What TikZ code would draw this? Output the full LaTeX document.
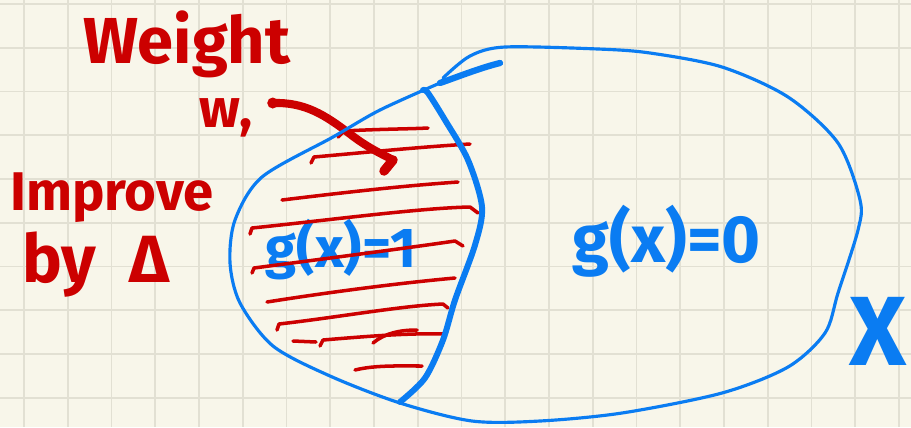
\documentclass[tikz,border=0pt]{standalone}
\usepackage{fontspec}
\setmainfont{Fira Sans}
\usepackage{tikz}
\definecolor{paper}{HTML}{F8F6EA}
\definecolor{gridc}{HTML}{E2E0D3}
\definecolor{inkred}{HTML}{CC0000}
\definecolor{inkblue}{HTML}{0A7CF2}

\begin{document}
\begin{tikzpicture}[x=0.02cm, y=-0.02cm,
  redtext/.style={text=inkred, inner sep=0pt, font=\fontsize{#1}{#1}\selectfont\bfseries},
  bluetext/.style={text=inkblue, inner sep=0pt, font=\fontsize{#1}{#1}\selectfont\bfseries},
  gridline/.style={draw=gridc, line width=1.1pt},
  hatch/.style={draw=inkred, line width=2pt, line cap=round, line join=round},
  arrowink/.style={draw=inkred, line width=4.6pt, line cap=round, line join=round},
  rim/.style={draw=inkblue, line width=1.8pt, line cap=round, line join=round},
  cut/.style={draw=inkblue, line width=3.4pt, line cap=round, line join=round}
]
\useasboundingbox (0,0) rectangle (911,427);
\fill[paper] (0,0) rectangle (911,427);
\foreach \k in {0,...,20} \draw[gridline] ({24+43.75*\k},0) -- ({24+43.75*\k},427);
\foreach \k in {0,...,9} \draw[gridline] (0,{4+43.75*\k}) -- (911,{4+43.75*\k});

\node[redtext=37] (weight) at (187,44) {Weight};
\node[redtext=31] (w) at (226,118) {w,};
\node[redtext=31] (improve) at (112,198) {Improve};
\node[redtext=38] (by) at (96,265) {by\enspace Δ};
\node[bluetext=32] (g1) at (341,250) {g(x)=1};
\node[bluetext=38] (g0) at (667,241) {g(x)=0};
\node[bluetext=56] (X) at (878,331) {X};

\coordinate (tip) at (393,160);
\draw[arrowink] ([xshift=0.4cm,yshift=0.3cm]w.east) .. controls (305,102) and (325,115) .. (350,134)
  .. controls (368,148) and (382,154) .. (tip);
\draw[arrowink, line width=5.4pt] (tip) -- ++(-9,11);
\fill[inkred] ([xshift=0.4cm,yshift=0.3cm]w.east) circle[radius=0.11cm];

\draw[hatch] (338,137) -- (344,131) .. controls (380,129) and (410,129) .. (428,128);
\draw[hatch] (311,163) -- (314,157) .. controls (370,152) and (420,147) .. (470,144);
\draw[hatch] (282,200) .. controls (340,193) and (400,186) .. (458,182);
\draw[hatch] (250,234) -- (252,228) .. controls (330,220) and (420,208) .. (470,207) -- (478,213);
\draw[hatch] (252,273) -- (254,268) .. controls (330,258) and (400,249) .. (455,241) -- (463,246);
\draw[hatch] (267,302) .. controls (330,292) and (400,283) .. (455,278);
\draw[hatch] (277,330) -- (279,324) .. controls (340,317) and (400,306) .. (443,304) -- (448,308);
\draw[hatch] (293,341) -- (316,342);
\draw[hatch] (320,346) -- (323,340) .. controls (370,336) and (410,333) .. (443,334);
\draw[hatch] (373,343) .. controls (385,333) and (400,330) .. (417,330);
\draw[hatch] (355,370) .. controls (375,365) and (400,366) .. (422,366);

\draw[rim] plot[smooth] coordinates {(443,78) (470,56) (505,47) (598,49) (650,53) (722,67)
  (788,97) (838,143) (860,200) (858,230) (838,293) (825,333) (788,367) (722,393) (622,413)
  (540,421) (472,421) (400,403) (330,376) (273,346) (240,303) (230,263) (235,220)
  (262,177) (333,137) (380,110) (440,83)};
\draw[cut, line width=3.6pt] (440,83) .. controls (460,76) and (480,68) .. (500,63);
\draw[cut] plot[smooth] coordinates {(423,90) (428,93) (445,120) (468,160) (482,207)
  (475,245) (455,300) (443,340) (425,378) (400,402)};
\end{tikzpicture}
\end{document}
